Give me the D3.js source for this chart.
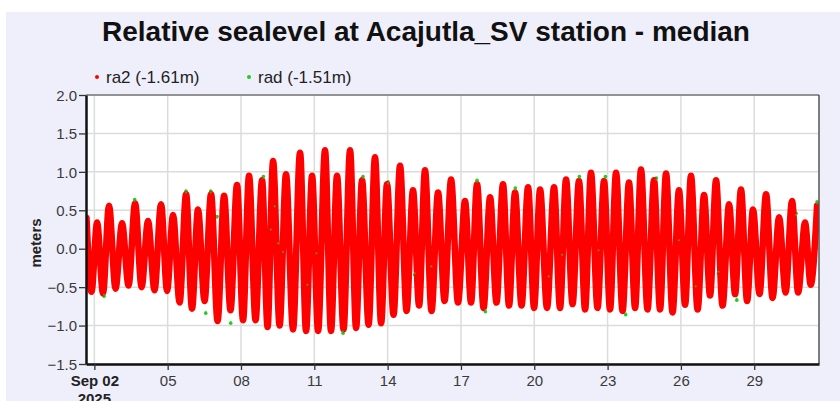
<!DOCTYPE html>
<html>
<head>
<meta charset="utf-8">
<script src="https://cdn.jsdelivr.net/npm/d3@7"></script>
<style>
  body { margin: 0; background: #fff; }
  svg { display: block; }
  text { font-family: "Liberation Sans", Arial, sans-serif; }
</style>
</head>
<body>
<svg id="chart" width="840" height="401"></svg>
<script>
// times are hours since 2025-09-01 00:00 UTC, levels in meters
const highHours = [16.3, 26.7, 38.4, 51.2, 64.0, 76.7, 89.5, 101.3, 114.1, 125.8,
  138.6, 151.4, 164.1, 175.9, 188.7, 199.5, 212.2, 226.0, 237.8, 250.5,
  262.3, 275.1, 286.9, 299.6, 311.4, 324.2, 336.9, 348.7, 361.5, 374.3,
  388.0, 399.8, 412.6, 425.3, 437.1, 449.9, 461.7, 475.4, 487.2, 499.9,
  511.7, 524.5, 536.3, 549.0, 560.8, 573.6, 585.4, 598.1, 609.9, 622.7,
  634.5, 647.3, 659.0, 670.8, 683.6, 696.4, 709.1, 721.9, 733.7];
const highLevels = [0.40, 0.34, 0.56, 0.33, 0.59, 0.36, 0.58, 0.44, 0.71, 0.51,
  0.71, 0.69, 0.83, 0.95, 0.89, 1.14, 0.97, 1.25, 0.95, 1.28,
  0.95, 1.28, 0.89, 1.19, 0.84, 1.08, 0.76, 1.02, 0.73, 0.90,
  0.62, 0.84, 0.67, 0.84, 0.73, 0.80, 0.77, 0.80, 0.90, 0.88,
  0.99, 0.88, 0.99, 0.86, 1.03, 0.89, 0.98, 0.76, 0.95, 0.70,
  0.89, 0.58, 0.77, 0.51, 0.71, 0.41, 0.62, 0.34, 0.56];
const lowHours = [21.2, 32.5, 44.8, 57.6, 70.4, 83.1, 95.4, 107.7, 119.9, 132.2,
  145.0, 157.7, 170.0, 182.3, 194.1, 205.9, 219.1, 231.9, 243.7, 256.4,
  268.7, 281.0, 293.3, 305.6, 317.8, 330.6, 342.9, 355.1, 367.9, 381.1,
  393.9, 406.2, 418.9, 431.2, 443.5, 455.8, 468.5, 481.3, 493.6, 505.9,
  518.1, 530.4, 542.7, 555.0, 567.2, 579.5, 591.8, 604.1, 616.4, 628.6,
  640.9, 653.2, 665.0, 677.2, 690.0, 702.8, 715.1, 727.4];
const lowLevels = [-0.56, -0.58, -0.52, -0.48, -0.50, -0.54, -0.55, -0.70, -0.78, -0.68,
  -0.94, -0.80, -0.93, -0.93, -1.02, -1.00, -1.05, -1.07, -1.07, -1.07,
  -1.05, -1.03, -0.99, -0.97, -0.86, -0.81, -0.74, -0.81, -0.68, -0.70,
  -0.70, -0.77, -0.70, -0.74, -0.74, -0.77, -0.77, -0.77, -0.72, -0.79,
  -0.77, -0.79, -0.81, -0.77, -0.79, -0.79, -0.83, -0.73, -0.79, -0.61,
  -0.74, -0.59, -0.68, -0.59, -0.64, -0.57, -0.57, -0.47];

// rad samples that show through the ra2 trace
const radHours = [33.5, 63.6, 114.0, 133.4, 138.3, 144.5, 157.9, 190.0, 197.2, 201.1,
  204.4, 209.3, 233.2, 242.0, 268.2, 287.8, 312.4, 338.6, 354.9, 399.8,
  408.0, 437.4, 470.2, 483.3, 500.3, 519.1, 525.9, 545.8, 575.9, 598.1,
  614.6, 636.8, 654.9, 713.1, 733.7];
const radLevels = [-0.60, 0.62, 0.73, -0.82, 0.73, 0.40, -0.95, 0.92, 0.25, 0.55,
  0.07, -0.04, -0.47, -0.06, -1.08, 0.92, 0.85, -0.32, -0.23, 0.87,
  -0.80, 0.77, -0.36, -0.08, 0.92, -0.02, 0.92, -0.84, 0.90, 0.11,
  -0.49, -0.30, -0.65, 0.44, 0.59];

const timeDomainHours = [15.8, 735.6];
const tickDays = [2, 5, 8, 11, 14, 17, 20, 23, 26, 29];
const tickLabels = ["Sep 02", "05", "08", "11", "14", "17", "20", "23", "26", "29"];
const yTicks = [-1.5, -1.0, -0.5, 0.0, 0.5, 1.0, 1.5, 2.0];
const legendNames = ["ra2 (-1.61m)", "rad (-1.51m)"];
const legendColors = ["#ff0000", "#22cc22"];

const base = Date.UTC(2025, 8, 1);
const toDate = h => new Date(base + h * 3600e3);

const svg = d3.select("#chart");
const plotLeft = 86, plotRight = 819, plotTop = 95, plotBottom = 364;

svg.append("rect").attr("x", 6).attr("y", 12).attr("width", 834).attr("height", 389).attr("fill", "#efeffb");
svg.append("rect").attr("x", plotLeft).attr("y", plotTop)
  .attr("width", plotRight - plotLeft).attr("height", plotBottom - plotTop).attr("fill", "#fff");

const x = d3.scaleUtc().domain(timeDomainHours.map(toDate)).range([plotLeft, plotRight]);
const y = d3.scaleLinear().domain([-1.5, 2.0]).range([plotBottom, plotTop]);

// grid
svg.append("g").selectAll("line").data(yTicks).enter().append("line")
  .attr("x1", plotLeft).attr("x2", plotRight)
  .attr("y1", d => y(d)).attr("y2", d => y(d))
  .attr("stroke", "#dcdcdc").attr("stroke-width", 1.5);
const tickDates = tickDays.map(d => new Date(Date.UTC(2025, 8, d)));
svg.append("g").selectAll("line").data(tickDates).enter().append("line")
  .attr("x1", d => x(d)).attr("x2", d => x(d))
  .attr("y1", plotTop).attr("y2", plotBottom)
  .attr("stroke", "#dcdcdc").attr("stroke-width", 1.5);

// series
const points = highHours.map((h, i) => ({ t: h, v: highLevels[i] }))
  .concat(lowHours.map((h, i) => ({ t: h, v: lowLevels[i] })))
  .sort((a, b) => a.t - b.t);

svg.append("clipPath").attr("id", "clip").append("rect")
  .attr("x", plotLeft).attr("y", plotTop)
  .attr("width", plotRight - plotLeft).attr("height", plotBottom - plotTop);
const plot = svg.append("g").attr("clip-path", "url(#clip)");

const line = d3.line()
  .x(d => x(toDate(d.t)))
  .y(d => y(d.v))
  .curve(d3.curveMonotoneX);

plot.selectAll("circle.rad").data(radHours).enter().append("circle")
  .attr("class", "rad")
  .attr("cx", h => x(toDate(h)))
  .attr("cy", (h, i) => y(radLevels[i]) + (radLevels[i] > 0 ? -1.5 : 1.5))
  .attr("r", 1.8)
  .attr("fill", legendColors[1]);

plot.append("path").datum(points)
  .attr("d", line)
  .attr("fill", "none")
  .attr("stroke", legendColors[0])
  .attr("stroke-width", 6.5)
  .attr("stroke-linejoin", "round")
  .attr("stroke-linecap", "round");

plot.selectAll("circle.radTop").data(radHours).enter().append("circle")
  .attr("class", "radTop")
  .attr("cx", h => x(toDate(h)))
  .attr("cy", (h, i) => y(radLevels[i]))
  .attr("r", 1.1)
  .attr("fill", legendColors[1])
  .attr("opacity", 0.7);

// frame
svg.append("line").attr("x1", plotLeft).attr("x2", plotRight).attr("y1", plotTop).attr("y2", plotTop)
  .attr("stroke", "#777").attr("stroke-width", 1.5);
svg.append("line").attr("x1", plotRight).attr("x2", plotRight).attr("y1", plotTop).attr("y2", plotBottom)
  .attr("stroke", "#555").attr("stroke-width", 1.5);

// axes
const yAxis = svg.append("g").attr("transform", `translate(${plotLeft},0)`)
  .call(d3.axisLeft(y).tickValues(yTicks).tickFormat(d3.format(".1f")).tickSize(7).tickSizeOuter(0));
const xAxis = svg.append("g").attr("transform", `translate(0,${plotBottom})`)
  .call(d3.axisBottom(x).tickValues(tickDates).tickFormat((d, i) => tickLabels[i]).tickSize(6).tickSizeOuter(0));

[yAxis, xAxis].forEach(g => {
  g.select(".domain").attr("stroke", "#111").attr("stroke-width", 2.5);
  g.selectAll(".tick line").attr("stroke", "#333").attr("stroke-width", 1.3);
  g.selectAll("text").attr("fill", "#3a3a3a").style("font-size", "15px");
});
yAxis.selectAll("text").attr("x", -9).attr("dy", "0.35em");
xAxis.selectAll("text").attr("y", 11);
xAxis.selectAll(".tick").filter((d, i) => i === 0).select("text")
  .attr("fill", "#222").style("font-weight", "bold");
xAxis.append("text").attr("x", x(tickDates[0])).attr("y", 40)
  .attr("text-anchor", "middle").attr("fill", "#222")
  .style("font-size", "15px").style("font-weight", "bold").text("2025");

// y label
svg.append("text").attr("transform", "translate(41,243) rotate(-90)")
  .attr("text-anchor", "middle").attr("fill", "#222")
  .style("font-size", "15px").style("font-weight", "bold").text("meters");

// title
svg.append("text").attr("x", 426).attr("y", 41).attr("text-anchor", "middle")
  .attr("fill", "#111").style("font-size", "28px").style("font-weight", "bold")
  .text("Relative sealevel at Acajutla_SV station - median");

// legend
const legend = svg.append("g").selectAll("g").data(legendNames).enter().append("g")
  .attr("transform", (d, i) => `translate(${97 + i * 152},77)`);
legend.append("circle").attr("r", 2).attr("fill", (d, i) => legendColors[i]);
legend.append("text").attr("x", 9).attr("dy", "0.35em").attr("fill", "#222")
  .style("font-size", "17px").text(d => d);
</script>
</body>
</html>
